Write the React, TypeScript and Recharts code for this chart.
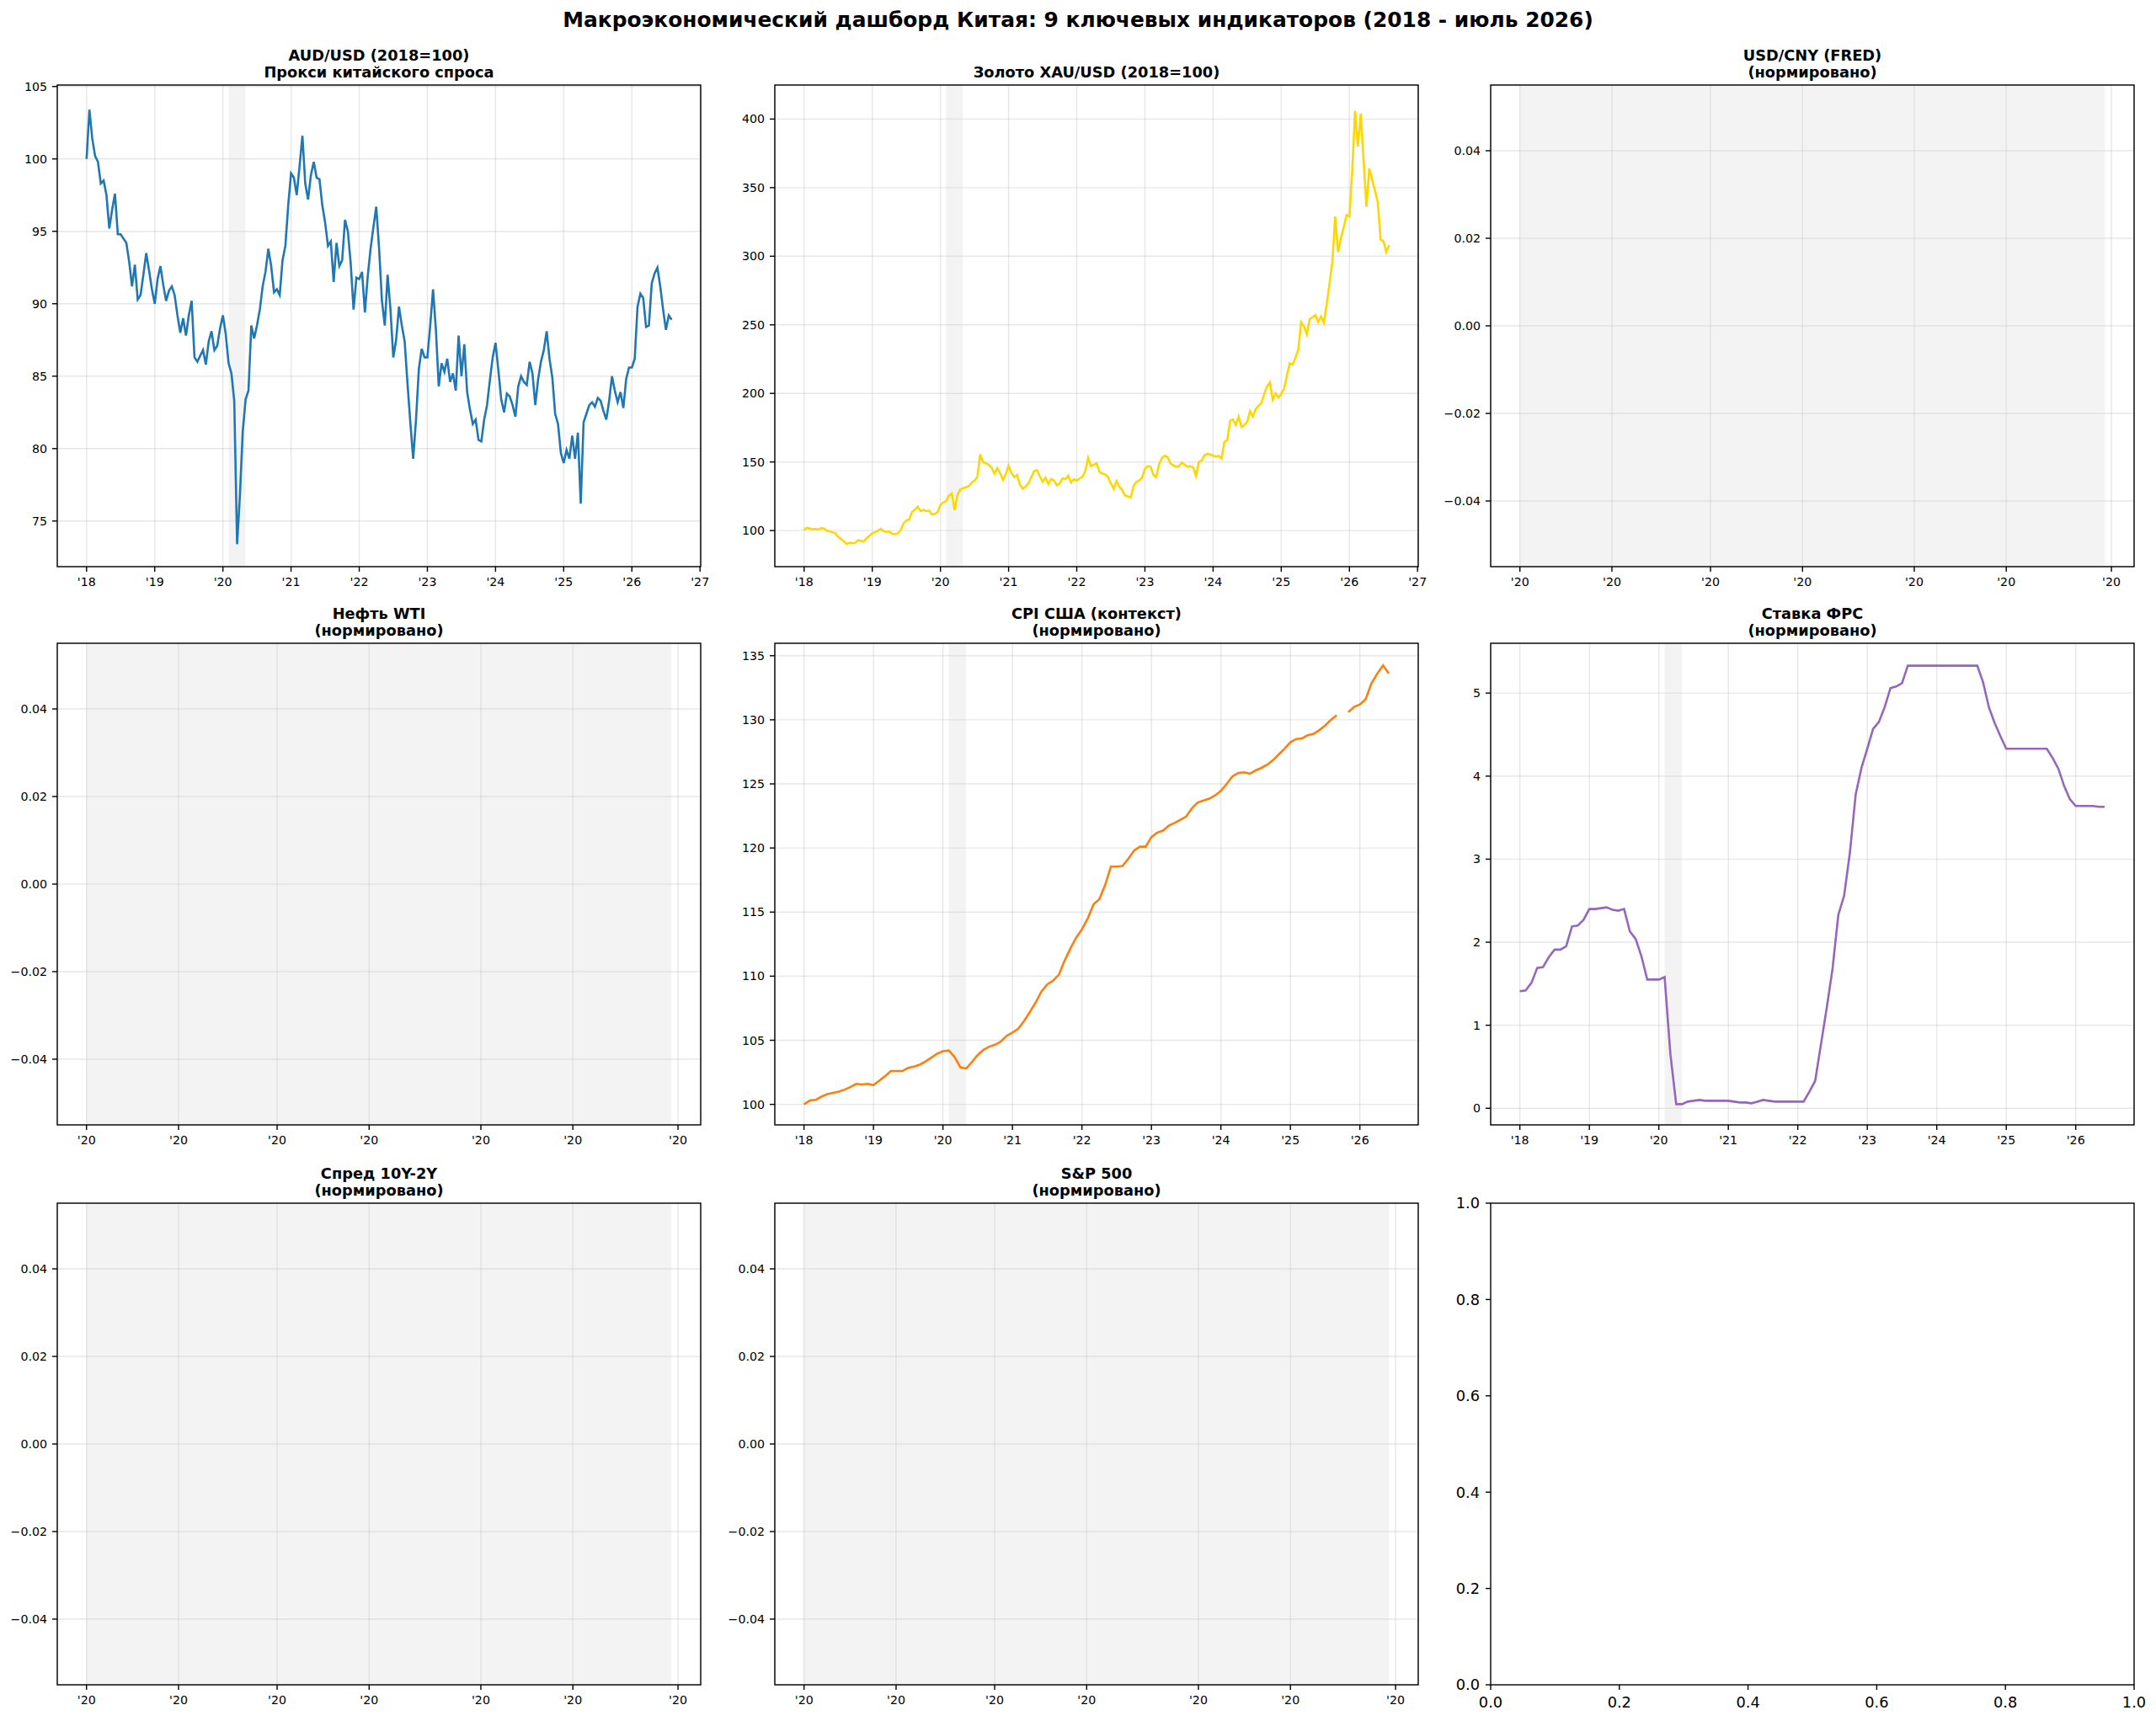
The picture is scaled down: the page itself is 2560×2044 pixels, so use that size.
import React from "react";
import { LineChart, Line, XAxis, YAxis, CartesianGrid, ReferenceArea } from "recharts";

const FONT = "'DejaVu Sans', sans-serif";

// AUD/USD, 2018=100, two readings per month (1st and 16th)
const AUD_2018 = [100.0, 103.4, 101.4, 100.2, 99.8, 98.3, 98.5, 97.5, 95.2, 96.5, 97.6, 94.8, 94.8, 94.5, 94.2, 92.9, 91.2, 92.7, 90.3, 90.6, 92.0, 93.5, 92.3, 91.0];
const AUD_2019 = [90.0, 91.7, 92.6, 91.3, 90.2, 90.9, 91.2, 90.6, 89.2, 88.0, 89.0, 87.8, 89.2, 90.2, 86.3, 86.0, 86.4, 86.8, 85.8, 87.4, 88.1, 86.8, 87.1, 88.3];
const AUD_2020 = [89.2, 87.9, 85.9, 85.2, 83.3, 73.4, 76.8, 81.2, 83.4, 84.0, 88.5, 87.6, 88.5, 89.6, 91.2, 92.2, 93.8, 92.6, 90.8, 91.0, 90.6, 93.0, 94.0, 96.8];
const AUD_2021 = [99.0, 98.7, 97.5, 99.5, 101.6, 98.3, 97.2, 98.9, 99.8, 98.7, 98.6, 96.8, 95.6, 94.0, 94.3, 91.5, 94.2, 92.6, 93.0, 95.8, 95.0, 92.8, 89.6, 91.8];
const AUD_2022 = [91.7, 92.2, 89.4, 91.9, 93.8, 95.3, 96.7, 93.8, 90.2, 88.5, 92.0, 89.6, 86.3, 87.5, 89.8, 88.5, 87.4, 84.5, 81.8, 79.3, 82.0, 85.5, 86.9, 86.3];
const AUD_2023 = [86.3, 88.5, 91.0, 88.2, 84.3, 85.9, 85.3, 86.2, 84.6, 85.2, 84.0, 87.8, 85.0, 87.2, 83.9, 82.7, 81.7, 82.0, 80.6, 80.5, 82.0, 83.0, 84.7, 86.3];
const AUD_2024 = [87.3, 85.4, 83.4, 82.5, 83.8, 83.6, 83.0, 82.2, 84.3, 85.0, 84.6, 84.4, 86.0, 85.2, 83.0, 84.8, 86.0, 86.8, 88.1, 86.2, 84.9, 82.4, 81.7, 79.7];
const AUD_2025 = [79.0, 79.9, 79.3, 80.9, 79.3, 81.1, 76.2, 81.8, 82.4, 83.0, 83.2, 82.9, 83.5, 83.3, 82.6, 82.0, 83.3, 85.0, 84.0, 83.2, 83.9, 82.8, 84.8, 85.6];
const AUD_2026 = [85.6, 86.2, 89.8, 90.7, 90.4, 88.4, 88.5, 91.4, 92.1, 92.5, 91.2, 89.6, 88.2, 89.2, 88.9];

// Gold XAU/USD, 2018=100, two readings per month
const GOLD_2018 = [100.4, 102.0, 101.4, 101.0, 101.2, 100.8, 101.8, 101.5, 99.9, 99.5, 98.8, 98.0, 95.5, 93.8, 92.2, 90.2, 91.2, 90.8, 91.0, 93.0, 92.6, 92.0, 94.3, 96.2];
const GOLD_2019 = [98.0, 98.8, 100.0, 101.3, 99.5, 99.0, 99.3, 97.6, 97.5, 98.0, 100.2, 105.2, 107.4, 108.0, 113.6, 115.2, 117.5, 114.2, 115.0, 114.2, 114.5, 111.8, 112.0, 113.4];
const GOLD_2020 = [118.8, 120.5, 121.5, 125.5, 127.0, 115.0, 126.0, 130.0, 131.0, 131.5, 132.5, 135.0, 136.5, 139.2, 155.5, 150.0, 149.0, 148.0, 146.0, 141.5, 145.5, 142.0, 137.0, 141.0];
const GOLD_2021 = [147.3, 142.0, 139.0, 140.5, 133.5, 130.5, 132.0, 134.5, 139.0, 143.5, 144.0, 139.5, 135.5, 138.5, 134.0, 137.5, 136.5, 133.0, 134.5, 138.0, 137.5, 140.0, 135.0, 137.5];
const GOLD_2022 = [136.5, 138.0, 139.2, 143.3, 153.0, 147.0, 148.0, 149.0, 143.0, 141.5, 141.0, 139.0, 134.5, 130.5, 136.0, 132.0, 129.5, 125.5, 125.0, 124.0, 132.5, 135.5, 136.5, 138.5];
const GOLD_2023 = [145.0, 147.0, 146.5, 140.5, 139.0, 148.5, 153.0, 154.5, 153.5, 149.0, 147.5, 146.5, 147.0, 149.5, 148.0, 146.5, 147.0, 146.0, 140.0, 150.0, 151.0, 155.0, 156.0, 155.5];
const GOLD_2024 = [154.6, 154.0, 154.5, 152.5, 164.8, 165.8, 180.0, 181.0, 177.0, 183.0, 175.5, 177.0, 179.0, 187.0, 183.0, 188.5, 191.0, 193.0, 199.6, 205.0, 208.0, 195.5, 200.0, 197.0];
const GOLD_2025 = [199.5, 203.5, 213.0, 222.0, 221.0, 226.0, 232.0, 252.0, 249.0, 243.0, 254.0, 255.5, 257.0, 252.0, 256.0, 251.5, 265.0, 280.0, 296.0, 329.0, 303.0, 313.0, 321.0, 330.0];
const GOLD_2026 = [329.0, 362.0, 406.0, 380.0, 404.0, 370.0, 336.0, 364.0, 356.0, 348.0, 339.0, 312.0, 311.0, 303.0, 308.0];

// US CPI, 2018=100, monthly (Oct 2025 missing)
const CPI_2018 = [100.0, 100.3, 100.35, 100.6, 100.8, 100.9, 101.0, 101.15, 101.35, 101.6, 101.55, 101.6];
const CPI_2019 = [101.5, 101.85, 102.2, 102.6, 102.6, 102.6, 102.85, 102.95, 103.1, 103.35, 103.65, 103.95];
const CPI_2020 = [104.15, 104.2, 103.7, 102.9, 102.8, 103.3, 103.85, 104.25, 104.5, 104.65, 104.9, 105.35];
const CPI_2021 = [105.6, 105.9, 106.5, 107.2, 107.95, 108.8, 109.35, 109.65, 110.1, 111.2, 112.15, 113.0];
const CPI_2022 = [113.65, 114.5, 115.6, 116.0, 117.1, 118.55, 118.55, 118.6, 119.15, 119.8, 120.1, 120.1];
const CPI_2023 = [120.85, 121.2, 121.35, 121.75, 121.95, 122.2, 122.45, 123.1, 123.55, 123.7, 123.85, 124.1];
const CPI_2024 = [124.45, 125.0, 125.6, 125.85, 125.9, 125.8, 126.05, 126.25, 126.5, 126.85, 127.3, 127.75];
const CPI_2025 = [128.25, 128.5, 128.55, 128.8, 128.9, 129.2, 129.55, 130.0, 130.35, null, 130.6, 131.0];
const CPI_2026 = [131.2, 131.6, 132.85, 133.6, 134.25, 133.6];

// Fed funds rate, monthly
const FED_2018 = [1.41, 1.42, 1.51, 1.69, 1.7, 1.82, 1.91, 1.91, 1.95, 2.19, 2.2, 2.27];
const FED_2019 = [2.4, 2.4, 2.41, 2.42, 2.39, 2.38, 2.4, 2.13, 2.04, 1.83, 1.55, 1.55];
const FED_2020 = [1.55, 1.58, 0.65, 0.05, 0.05, 0.08, 0.09, 0.1, 0.09, 0.09, 0.09, 0.09];
const FED_2021 = [0.09, 0.08, 0.07, 0.07, 0.06, 0.08, 0.1, 0.09, 0.08, 0.08, 0.08, 0.08];
const FED_2022 = [0.08, 0.08, 0.2, 0.33, 0.77, 1.21, 1.68, 2.33, 2.56, 3.08, 3.78, 4.1];
const FED_2023 = [4.33, 4.57, 4.65, 4.83, 5.06, 5.08, 5.12, 5.33, 5.33, 5.33, 5.33, 5.33];
const FED_2024 = [5.33, 5.33, 5.33, 5.33, 5.33, 5.33, 5.33, 5.33, 5.13, 4.83, 4.64, 4.48];
const FED_2025 = [4.33, 4.33, 4.33, 4.33, 4.33, 4.33, 4.33, 4.33, 4.22, 4.09, 3.88, 3.72];
const FED_2026 = [3.64, 3.64, 3.64, 3.64, 3.63, 3.63];

// ticks
const YEAR_TICKS_LONG = [2018, 2019, 2020, 2021, 2022, 2023, 2024, 2025, 2026, 2027];
const YEAR_TICKS_SHORT = [2018, 2019, 2020, 2021, 2022, 2023, 2024, 2025, 2026];
const EMPTY_DAY_TICKS = [31, 45, 60, 74, 91, 105, 121]; // day of 2020: 1st & 15th, Feb..May
const AUD_Y_TICKS = [75, 80, 85, 90, 95, 100, 105];
const GOLD_Y_TICKS = [100, 150, 200, 250, 300, 350, 400];
const CPI_Y_TICKS = [100, 105, 110, 115, 120, 125, 130, 135];
const FED_Y_TICKS = [0, 1, 2, 3, 4, 5];
const EMPTY_Y_TICKS = [-0.04, -0.02, 0, 0.02, 0.04];
const UNIT_TICKS = [0, 0.2, 0.4, 0.6, 0.8, 1.0];

const COVID_SPAN: [number, number] = [2020.083, 2020.33];
const COVID_SPAN_DAYS: [number, number] = [31, 120];

const START = 2018;
type Pt = { x: number; v: number | null };

function perYear(years: (number | null)[][], perYearCount: number): Pt[] {
  const out: Pt[] = [];
  years.forEach((vals, yi) =>
    vals.forEach((v, k) => out.push({ x: START + yi + k / perYearCount, v }))
  );
  return out;
}

const audData = perYear([AUD_2018, AUD_2019, AUD_2020, AUD_2021, AUD_2022, AUD_2023, AUD_2024, AUD_2025, AUD_2026], 24);
const goldData = perYear([GOLD_2018, GOLD_2019, GOLD_2020, GOLD_2021, GOLD_2022, GOLD_2023, GOLD_2024, GOLD_2025, GOLD_2026], 24);
const cpiData = perYear([CPI_2018, CPI_2019, CPI_2020, CPI_2021, CPI_2022, CPI_2023, CPI_2024, CPI_2025, CPI_2026], 12);
const fedData = perYear([FED_2018, FED_2019, FED_2020, FED_2021, FED_2022, FED_2023, FED_2024, FED_2025, FED_2026], 12);
const emptyData: Pt[] = EMPTY_DAY_TICKS.map((x) => ({ x, v: null }));
const unitData: Pt[] = UNIT_TICKS.map((x) => ({ x, v: null }));

const yearFmt = (v: number) => "'" + String(Math.round(v) % 100).padStart(2, "0");
const fixed = (d: number) => (v: number) => {
  const s = Math.abs(v).toFixed(d);
  return v < -1e-9 ? "\u2212" + s : s;
};

// layout (px)
const COLS = [68, 920, 1770];
const ROWS = [101, 764, 1429];
const PW = 764;
const PH = 572;
const YW = 100;
const XH = 50;
const MT = 20;
const MR = 30;

interface PanelProps {
  col: number;
  row: number;
  title?: string[];
  data: Pt[];
  color?: string;
  xDomain: [number, number];
  xTicks: number[];
  xFmt: (v: number) => string;
  yDomain: [number, number];
  yTicks: number[];
  yFmt: (v: number) => string;
  span?: [number, number];
  grid?: boolean;
  big?: boolean;
}

function Panel({ col, row, title, data, color, xDomain, xTicks, xFmt, yDomain, yTicks, yFmt, span, grid = true, big = false }: PanelProps) {
  const L = COLS[col];
  const T = ROWS[row];
  const fs = big ? 17.8 : 14.2;
  const tickStyle = { fill: "#000", fontSize: fs, fontFamily: FONT };
  const tickLine = { stroke: "#000", strokeWidth: 1.4 };
  return (
    <>
      {title && (
        <div
          style={{
            position: "absolute",
            left: L,
            width: PW,
            top: T - 9.3 - 16.2 - (title.length - 1) * 20,
            textAlign: "center",
            fontFamily: FONT,
            fontWeight: "bold",
            fontSize: 17.8,
            lineHeight: "20px",
            color: "#000",
            whiteSpace: "pre",
          }}
        >
          {title.join("\n")}
        </div>
      )}
      <div style={{ position: "absolute", left: L - YW, top: T - MT }}>
        <LineChart
          width={YW + PW + MR}
          height={MT + PH + XH}
          data={data}
          margin={{ top: MT, right: MR, bottom: 0, left: 0 }}
        >
          {grid && (
            <CartesianGrid stroke="#b0b0b0" strokeOpacity={0.3} strokeWidth={1.4} />
          )}
          <XAxis
            dataKey="x"
            type="number"
            domain={xDomain}
            ticks={xTicks}
            tickFormatter={xFmt}
            interval={0}
            allowDataOverflow
            height={XH}
            axisLine={false}
            tickLine={tickLine}
            tickSize={6}
            tickMargin={big ? 8 : 7}
            tick={tickStyle}
          />
          <YAxis
            type="number"
            domain={yDomain}
            ticks={yTicks}
            tickFormatter={yFmt}
            interval={0}
            allowDataOverflow
            width={YW}
            axisLine={false}
            tickLine={tickLine}
            tickSize={6}
            tickMargin={big ? 7 : 6}
            tick={tickStyle}
          />
          {span && (
            <ReferenceArea x1={span[0]} x2={span[1]} fill="#d3d3d3" fillOpacity={0.27} stroke="none" />
          )}
          <Line
            type="linear"
            dataKey="v"
            stroke={color ?? "#1f77b4"}
            strokeWidth={2.6}
            dot={false}
            activeDot={false}
            isAnimationActive={false}
          />
        </LineChart>
      </div>
      <svg
        width={PW}
        height={PH}
        style={{ position: "absolute", left: L, top: T, overflow: "visible", pointerEvents: "none" }}
      >
        <rect x={0} y={0} width={PW} height={PH} fill="none" stroke="#000" strokeWidth={1.4} />
      </svg>
    </>
  );
}

const LONG_X: [number, number] = [2017.57, 2027.01];
const SHORT_X: [number, number] = [2017.58, 2026.84];
const EMPTY_X: [number, number] = [26.55, 124.45];
const EMPTY_Y: [number, number] = [-0.055, 0.055];
const NORM = "(нормировано)";

function EmptyPanel({ col, row, name }: { col: number; row: number; name: string }) {
  return (
    <Panel
      col={col}
      row={row}
      title={[name, NORM]}
      data={emptyData}
      xDomain={EMPTY_X}
      xTicks={EMPTY_DAY_TICKS}
      xFmt={() => "'20"}
      yDomain={EMPTY_Y}
      yTicks={EMPTY_Y_TICKS}
      yFmt={fixed(2)}
      span={COVID_SPAN_DAYS}
    />
  );
}

export default function App() {
  return (
    <div
      style={{
        position: "absolute",
        left: 0,
        top: 0,
        width: 2560,
        height: 2044,
        background: "#fff",
        overflow: "hidden",
      }}
    >
      <div
        style={{
          position: "absolute",
          left: 0,
          width: 2560,
          top: 9,
          textAlign: "center",
          fontFamily: FONT,
          fontWeight: "bold",
          fontSize: 24.9,
          lineHeight: "30px",
          color: "#000",
        }}
      >
        Макроэкономический дашборд Китая: 9 ключевых индикаторов (2018 - июль 2026)
      </div>

      <Panel
        col={0}
        row={0}
        title={["AUD/USD (2018=100)", "Прокси китайского спроса"]}
        data={audData}
        color="#1f77b4"
        xDomain={LONG_X}
        xTicks={YEAR_TICKS_LONG}
        xFmt={yearFmt}
        yDomain={[71.85, 105.1]}
        yTicks={AUD_Y_TICKS}
        yFmt={fixed(0)}
        span={COVID_SPAN}
      />
      <Panel
        col={1}
        row={0}
        title={["Золото XAU/USD (2018=100)"]}
        data={goldData}
        color="#FFD700"
        xDomain={LONG_X}
        xTicks={YEAR_TICKS_LONG}
        xFmt={yearFmt}
        yDomain={[73.7, 424.8]}
        yTicks={GOLD_Y_TICKS}
        yFmt={fixed(0)}
        span={COVID_SPAN}
      />
      <EmptyPanel col={2} row={0} name="USD/CNY (FRED)" />

      <EmptyPanel col={0} row={1} name="Нефть WTI" />
      <Panel
        col={1}
        row={1}
        title={["CPI США (контекст)", NORM]}
        data={cpiData}
        color="#ff7f0e"
        xDomain={SHORT_X}
        xTicks={YEAR_TICKS_SHORT}
        xFmt={yearFmt}
        yDomain={[98.4, 135.97]}
        yTicks={CPI_Y_TICKS}
        yFmt={fixed(0)}
        span={COVID_SPAN}
      />
      <Panel
        col={2}
        row={1}
        title={["Ставка ФРС", NORM]}
        data={fedData}
        color="#9467bd"
        xDomain={SHORT_X}
        xTicks={YEAR_TICKS_SHORT}
        xFmt={yearFmt}
        yDomain={[-0.2, 5.6]}
        yTicks={FED_Y_TICKS}
        yFmt={fixed(0)}
        span={COVID_SPAN}
      />

      <EmptyPanel col={0} row={2} name="Спред 10Y-2Y" />
      <EmptyPanel col={1} row={2} name="S&P 500" />
      <Panel
        col={2}
        row={2}
        data={unitData}
        xDomain={[0, 1]}
        xTicks={UNIT_TICKS}
        xFmt={fixed(1)}
        yDomain={[0, 1]}
        yTicks={UNIT_TICKS}
        yFmt={fixed(1)}
        grid={false}
        big
      />
    </div>
  );
}
